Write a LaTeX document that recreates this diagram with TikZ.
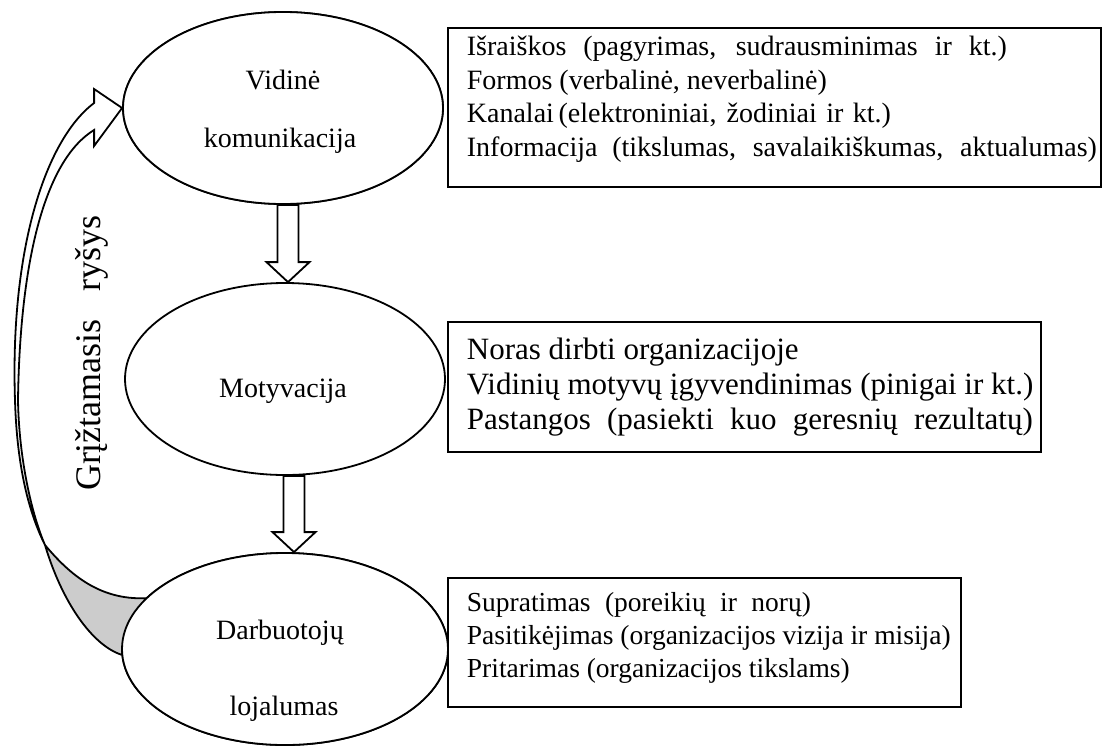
\documentclass[tikz,border=0pt]{standalone}
\usepackage{fontspec}
\setmainfont{Liberation Serif}
\usetikzlibrary{shapes.geometric,calc}
% a line whose word spaces are stretched to a given width
\newcommand\spread[2]{{\spaceskip=0pt\xspaceskip=0pt\makebox[#1][s]{#2}}}
% a line set with the font's own word spaces
\newcommand\plain[1]{{\spaceskip=0pt\xspaceskip=0pt\mbox{#1}}}
\begin{document}
\begin{tikzpicture}[x=1pt,y=-1pt,
  txt/.style={font=\fontsize{28}{33}\selectfont, inner sep=0pt},
  ln/.style={line width=1.8pt},
  oval/.style={ellipse, draw, ln, fill=white, minimum height=192pt, inner sep=0pt},
  blockarrow/.style={draw, ln, fill=white, line join=miter},
  infobox/.style={draw, ln, anchor=north west, align=left, inner xsep=19pt,
    inner ysep=0pt},
  backface/.style={draw, ln, fill=gray!40, line join=round}]
\useasboundingbox (0,0) rectangle (1115,747);

% the three stages
\node[oval, minimum width=320pt] (e1) at (283,108) {};
\node[oval, minimum width=320pt] (e2) at (285,379) {};
\node[oval, minimum width=326pt] (e3) at (285,649) {};

% curved feedback arrow from the last stage back to the first
\coordinate (X) at (45,545);
\coordinate (hu) at ($(e1.west)+(-28,-19)$);
\coordinate (ht) at ($(e1.west)+(-28,-5)$);
\coordinate (hb) at ($(e1.west)+(-28,22)$);
\coordinate (hl) at ($(e1.west)+(-28,38)$);
\draw[backface] (X) .. controls (70,575) and (100,600) .. (e3.160)
  -- (e3.182) .. controls (92,645) and (62,602) .. (X) -- cycle;
\draw[ln, fill=white, line join=miter] (X) .. controls (30,515) and (17,470) .. (15,400)
  .. controls (10,250) and (45,140) .. (ht) -- (hu) -- (e1.west) -- (hl) -- (hb)
  .. controls (45,160) and (20,260) .. (18,400)
  .. controls (19,460) and (32,515) .. (X) -- cycle;

% redraw the stages on top of the arrow ends
\node[oval, minimum width=320pt] at (e1.center) {};
\node[oval, minimum width=326pt] at (e3.center) {};

\node[txt, anchor=base] (t1a) at (283,89) {Vidinė};
\node[txt, anchor=base] (t1b) at (280,147) {komunikacija};
\node[txt, anchor=base] (t2) at (283,397) {Motyvacija};
\node[txt, anchor=base] (t3a) at (280,639) {Darbuotojų};
\node[txt, anchor=base] (t3b) at (284,715) {lojalumas};

\node[txt, font=\fontsize{36}{40}\selectfont, rotate=90, anchor=base] (fb) at (100,353)
  {Grįžtamasis\hspace{28pt}ryšys};

% block arrows between the stages
\coordinate (a1s) at (288,0 |- e1.south);
\coordinate (a1t) at (288,0 |- e2.north);
\coordinate (a2s) at (294,0 |- e2.south);
\coordinate (a2t) at (294,0 |- e3.north);
\foreach \s/\t in {a1s/a1t, a2s/a2t}{
  \draw[blockarrow] let \p1=(\s), \p2=(\t) in
    (\x1-10.5pt,\y1) -- (\x1-10.5pt,\y2+20pt) -- (\x1-21.5pt,\y2+20pt) -- (\x2,\y2)
    -- (\x1+21.5pt,\y2+20pt) -- (\x1+10.5pt,\y2+20pt) -- (\x1+10.5pt,\y1) -- cycle;
}

% descriptions of each stage
\node[infobox, minimum width=653pt, minimum height=159pt, text width=615pt,
  font=\fontsize{28}{33.5}\selectfont] (b1) at (447,27)
  {\spread{540pt}{Išraiškos (pagyrimas, sudrausminimas ir kt.)}\\
   \plain{Formos (verbalinė, neverbalinė)}\\
   \spread{424pt}{Kanalai\,(elektroniniai, žodiniai ir kt.)}\\
   \spread{630pt}{Informacija (tikslumas, savalaikiškumas, aktualumas)}\rule[-22pt]{0pt}{22pt}};
\node[infobox, minimum width=593pt, minimum height=130pt, text width=555pt,
  font=\fontsize{31}{35}\selectfont] (b2) at (447,321)
  {\plain{Noras dirbti organizacijoje}\\
   \plain{Vidinių motyvų įgyvendinimas (pinigai ir kt.)}\\
   \spread{566pt}{Pastangos (pasiekti kuo geresnių rezultatų)}};
\node[infobox, minimum width=513pt, minimum height=129pt, text width=475pt,
  font=\fontsize{27.5}{33}\selectfont] (b3) at (447,577)
  {\spread{344pt}{Supratimas (poreikių ir norų)}\\
   \plain{Pasitikėjimas (organizacijos vizija ir misija)}\\
   \plain{Pritarimas (organizacijos tikslams)}\rule[-14pt]{0pt}{14pt}};
\end{tikzpicture}
\end{document}
